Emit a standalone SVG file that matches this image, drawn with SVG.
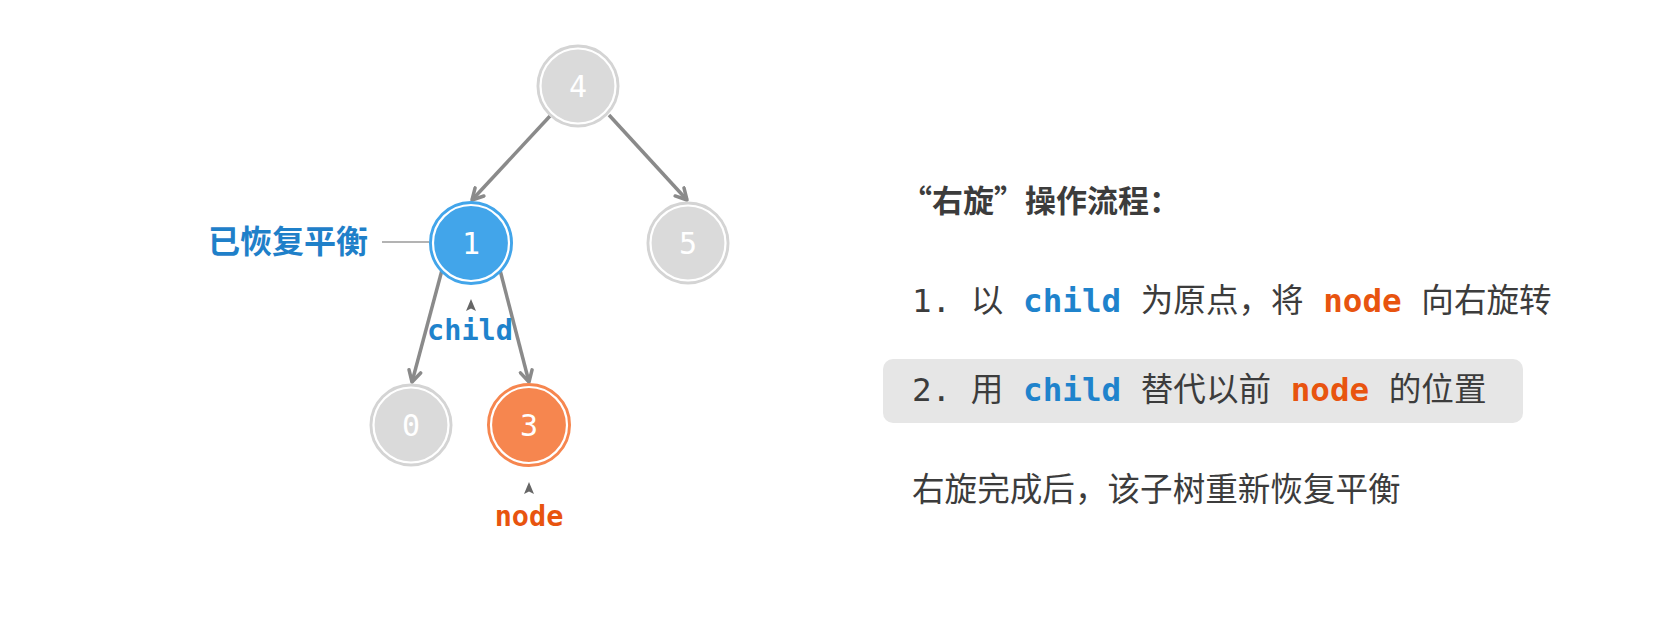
<svg xmlns="http://www.w3.org/2000/svg" width="1679" height="634" viewBox="0 0 1679 634">
<style>
.edge{fill:none;stroke:#8a8a8a;stroke-width:3.5;marker-end:url(#arr)}
.num{font-family:"DejaVu Sans Mono",monospace;font-size:30px;fill:#ffffff;text-anchor:middle}
.ring{fill:none;stroke:#ffffff;stroke-width:2.2}
.txt{font-family:"DejaVu Sans Mono","Noto Sans CJK SC",monospace;font-size:32.6px;fill:#3c3c3c}
.b{font-weight:bold;fill:#1f83cc}
.o{font-weight:bold;fill:#e8540f}
</style>
<defs>
<marker id="arr" viewBox="0 0 16 16" refX="14" refY="8" markerWidth="16" markerHeight="16" markerUnits="userSpaceOnUse" orient="auto">
<path d="M3,2 L14,8 L3,14" fill="none" stroke="#8a8a8a" stroke-width="3.5" stroke-linejoin="round" stroke-linecap="round"/>
</marker>
</defs>
<rect width="1679" height="634" fill="#ffffff"/>
<g id="connectors">
<path class="edge" d="M550,116 L472,200"/>
<path class="edge" d="M609,115 L687,200"/>
<path class="edge" d="M442,270 L412,382"/>
<path class="edge" d="M500,270 L529,382"/>
<line x1="382" y1="242" x2="429" y2="242" stroke="#9a9a9a" stroke-width="1.5"/>
<path d="M471,299 L476,311 L471,308.5 L466,311 Z" fill="#666666"/>
<path d="M529,482 L534,494 L529,491.5 L524,494 Z" fill="#666666"/>
</g>
<g id="node4">
<circle cx="578" cy="86" r="40" fill="#dadada" stroke="#d4d4d4" stroke-width="3"/>
<circle class="ring" cx="578" cy="86" r="37.5"/>
<text class="num" x="578" y="97">4</text>
</g>
<g id="node1">
<circle cx="471" cy="243" r="40.5" fill="#42a5ea" stroke="#42a5ea" stroke-width="3"/>
<circle class="ring" cx="471" cy="243" r="38"/>
<text class="num" x="471" y="254">1</text>
</g>
<g id="node5">
<circle cx="688" cy="243" r="40" fill="#dadada" stroke="#d4d4d4" stroke-width="3"/>
<circle class="ring" cx="688" cy="243" r="37.5"/>
<text class="num" x="688" y="254">5</text>
</g>
<g id="node0">
<circle cx="411" cy="425" r="40" fill="#dadada" stroke="#d4d4d4" stroke-width="3"/>
<circle class="ring" cx="411" cy="425" r="37.5"/>
<text class="num" x="411" y="436">0</text>
</g>
<g id="node3">
<circle cx="529" cy="425" r="40.5" fill="#f6864f" stroke="#f6864f" stroke-width="3"/>
<circle class="ring" cx="529" cy="425" r="38"/>
<text class="num" x="529" y="436">3</text>
</g>
<g id="labels">
<text x="208" y="253" font-family="Noto Sans CJK SC,sans-serif" font-weight="bold" font-size="32" fill="#1f80c9">已恢复平衡</text>
<text x="470" y="340" font-family="DejaVu Sans Mono,monospace" font-weight="bold" font-size="28.5" fill="#1f83cc" text-anchor="middle">child</text>
<text x="529" y="526" font-family="DejaVu Sans Mono,monospace" font-weight="bold" font-size="28.5" fill="#e8540f" text-anchor="middle">node</text>
</g>
<g id="steps">
<text x="901" y="212" font-family="Noto Sans CJK SC,sans-serif" font-weight="bold" font-size="31" fill="#3c3c3c">“右旋”操作流程：</text>
<text class="txt" x="912" y="312">1. 以 <tspan class="b">child</tspan> 为原点，将 <tspan class="o">node</tspan> 向右旋转</text>
<rect x="883" y="359" width="640" height="64" rx="10" fill="#e6e6e6"/>
<text class="txt" x="912" y="401">2. 用 <tspan class="b">child</tspan> 替代以前 <tspan class="o">node</tspan> 的位置</text>
<text x="912" y="501" font-family="Noto Sans CJK SC,sans-serif" font-size="32.6" fill="#3c3c3c">右旋完成后，该子树重新恢复平衡</text>
</g>
</svg>
